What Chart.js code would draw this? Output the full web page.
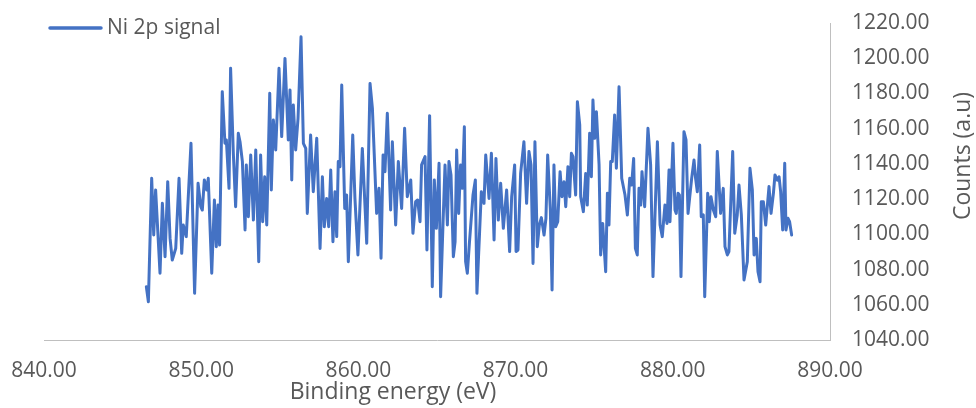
<!DOCTYPE html>
<html>
<head>
<meta charset="utf-8">
<script src="https://cdn.jsdelivr.net/npm/chart.js@4/dist/chart.umd.min.js"></script>
<style>
  html, body { margin: 0; padding: 0; background: #ffffff; }
  #wrap { width: 976px; height: 408px; }
</style>
</head>
<body>
<div id="wrap"><canvas id="xps" width="976" height="408"></canvas></div>
<script>
// Ni 2p region: binding energy (eV) and detector counts
const energies = [
  846.51,846.64,846.85,846.98,847.10,847.38,847.53,847.70,847.87,848.02,
  848.16,848.38,848.59,848.76,848.86,849.05,849.35,849.58,849.80,849.97,
  850.07,850.20,850.35,850.45,850.67,850.84,850.96,851.07,851.17,851.34,
  851.51,851.60,851.77,851.87,852.04,852.19,852.36,852.47,852.62,852.79,
  852.87,853.00,853.15,853.32,853.47,853.66,853.78,853.91,854.04,854.17,
  854.36,854.46,854.59,854.74,854.95,855.12,855.33,855.54,855.65,855.76,
  855.86,856.01,856.16,856.35,856.50,856.65,856.75,856.96,857.13,857.35,
  857.56,857.71,857.83,857.98,858.11,858.24,858.38,858.51,858.62,858.72,
  858.83,858.94,859.13,859.25,859.36,859.51,859.64,859.78,859.97,860.25,
  860.53,860.74,860.89,861.16,861.31,861.44,861.57,861.69,861.84,862.05,
  862.16,862.37,862.54,862.75,862.94,863.11,863.33,863.47,863.64,863.77,
  863.92,864.02,864.24,864.36,864.53,864.70,864.83,864.96,865.13,865.23,
  865.38,865.51,865.66,865.76,865.89,866.04,866.15,866.25,866.38,866.50,
  866.61,866.74,866.82,866.93,867.06,867.29,867.44,867.54,867.71,867.82,
  867.99,868.10,868.31,868.46,868.63,868.75,868.90,869.05,869.22,869.43,
  869.62,869.75,869.94,870.03,870.15,870.32,870.53,870.70,870.85,870.98,
  871.11,871.23,871.38,871.51,871.64,871.81,871.93,872.04,872.21,872.32,
  872.44,872.55,872.68,872.83,872.95,873.08,873.19,873.33,873.44,873.55,
  873.65,873.82,873.93,874.08,874.14,874.31,874.46,874.56,874.71,874.82,
  874.92,875.03,875.14,875.31,875.41,875.54,875.73,875.84,875.94,876.05,
  876.15,876.30,876.41,876.58,876.75,876.96,877.11,877.26,877.38,877.51,
  877.62,877.74,877.85,877.96,878.04,878.21,878.42,878.59,878.74,879.02,
  879.19,879.33,879.50,879.63,879.76,879.82,880.01,880.14,880.22,880.33,
  880.42,880.52,880.71,880.84,880.97,881.20,881.35,881.45,881.56,881.71,
  881.81,881.94,882.03,882.22,882.32,882.43,882.58,882.73,882.83,883.04,
  883.21,883.32,883.47,883.57,883.81,883.94,884.10,884.21,884.36,884.53,
  884.74,884.91,885.06,885.17,885.31,885.42,885.55,885.63,885.76,885.91,
  886.12,886.25,886.40,886.50,886.65,886.76,886.86,886.99,887.12,887.20,
  887.33,887.43,887.56
];

const counts = [
  1070.3,1061.7,1131.8,1099.6,1125.2,1077.9,1117.6,1087.3,1129.9,1097.7,
  1085.4,1092.0,1131.8,1089.2,1105.3,1098.7,1151.7,1066.5,1129.0,1115.7,
  1113.8,1130.9,1125.2,1131.8,1077.9,1119.5,1093.0,1116.6,1093.9,1181.0,
  1151.7,1153.6,1126.1,1194.3,1146.9,1115.7,1157.4,1152.6,1141.3,1102.5,
  1139.4,1110.0,1145.0,1108.1,1147.9,1084.5,1145.0,1107.2,1132.7,1105.3,
  1180.1,1125.2,1164.9,1147.9,1194.3,1155.5,1199.9,1153.6,1182.0,1130.8,
  1173.4,1147.9,1165.9,1212.2,1151.7,1148.8,1111.9,1156.4,1124.2,1154.5,
  1092.0,1132.7,1104.3,1120.4,1104.3,1136.5,1095.8,1124.2,1098.7,1141.3,
  1138.4,1184.8,1114.7,1122.3,1084.5,1122.3,1156.4,1120.4,1088.3,1148.8,
  1094.9,1185.7,1171.5,1111.9,1126.1,1086.4,1145.0,1135.6,1168.7,1113.8,
  1152.6,1105.3,1141.3,1114.7,1160.2,1121.4,1130.8,1100.6,1118.5,1119.5,
  1107.2,1139.4,1144.1,1091.1,1167.4,1070.3,1130.8,1103.4,1140.3,1064.6,
  1105.3,1139.4,1105.3,1141.3,1133.7,1087.3,1095.8,1147.9,1111.9,1139.4,
  1126.1,1161.1,1084.5,1077.9,1094.9,1122.3,1130.8,1066.5,1101.5,1124.2,
  1117.6,1145.0,1120.4,1146.0,1096.8,1143.1,1108.1,1129.0,1103.4,1125.2,
  1090.2,1121.4,1139.4,1090.2,1091.1,1134.6,1152.6,1117.6,1147.0,1139.4,
  1083.5,1152.6,1093.0,1105.3,1109.5,1099.6,1109.1,1145.0,1113.8,1068.4,
  1139.4,1104.3,1107.2,1135.6,1121.4,1129.9,1115.7,1138.4,1121.4,1146.0,
  1144.1,1122.3,1175.3,1162.1,1121.4,1112.9,1134.6,1116.6,1157.4,1132.7,
  1176.3,1154.5,1169.6,1139.4,1088.3,1106.2,1078.8,1123.3,1105.3,1141.3,
  1141.3,1167.8,1137.5,1183.8,1131.8,1122.3,1111.0,1131.8,1128.0,1143.1,
  1092.0,1088.3,1126.1,1116.6,1135.6,1115.7,1160.2,1139.4,1076.0,1152.6,
  1105.3,1098.7,1116.6,1106.2,1136.5,1107.2,1151.7,1113.8,1111.9,1123.3,
  1122.3,1076.0,1158.3,1153.6,1111.9,1131.8,1142.2,1131.8,1124.2,1150.7,
  1110.0,1111.0,1064.6,1123.3,1107.2,1121.4,1113.8,1110.0,1147.0,1111.9,
  1126.1,1093.0,1088.3,1090.2,1147.0,1100.6,1111.0,1128.0,1111.0,1074.1,
  1084.5,1137.5,1125.2,1088.3,1097.7,1078.8,1073.1,1118.5,1118.5,1105.3,
  1127.1,1111.9,1123.3,1133.7,1130.8,1132.7,1124.2,1102.5,1140.3,1102.5,
  1109.1,1107.2,1099.6
];

const seriesName = 'Ni 2p signal';
const xTitle = 'Binding energy (eV)';
const yTitle = 'Counts (a.u)';
const xTicks = [840, 850, 860, 870, 880, 890];
const yTicks = [1040, 1060, 1080, 1100, 1120, 1140, 1160, 1180, 1200, 1220];

const lineColor = '#4472C4';
const textColor = '#595959';
const axisColor = '#BFBFBF';
const fontFamily = "'Open Sans', 'Noto Sans', sans-serif";

const points = energies.map((e, i) => ({ x: e, y: counts[i] }));

// Legend entry and axis titles drawn on the canvas
const annotations = {
  id: 'annotations',
  afterDraw(chart) {
    const ctx = chart.ctx;
    const ds = chart.data.datasets[0];
    ctx.save();
    ctx.strokeStyle = ds.borderColor;
    ctx.lineWidth = 3.5;
    ctx.lineCap = 'round';
    ctx.beginPath();
    ctx.moveTo(50, 28);
    ctx.lineTo(101, 28);
    ctx.stroke();
    ctx.fillStyle = textColor;
    ctx.font = '21px ' + fontFamily;
    ctx.textBaseline = 'alphabetic';
    ctx.textAlign = 'left';
    ctx.fillText(ds.label, 107, 34);

    ctx.font = '23px ' + fontFamily;
    ctx.textAlign = 'center';
    ctx.fillText(xTitle, 393, 399);

    ctx.translate(970, 156);
    ctx.rotate(-Math.PI / 2);
    ctx.fillText(yTitle, 0, 0);
    ctx.restore();
  }
};

new Chart(document.getElementById('xps'), {
  type: 'scatter',
  data: {
    datasets: [{
      label: seriesName,
      data: points,
      showLine: true,
      borderColor: lineColor,
      backgroundColor: lineColor,
      borderWidth: 3,
      pointRadius: 0,
      pointHoverRadius: 0,
      tension: 0,
      borderJoinStyle: 'round',
      borderCapStyle: 'round'
    }]
  },
  options: {
    responsive: false,
    devicePixelRatio: 1,
    animation: false,
    layout: { padding: { left: 44, top: 23, right: 0, bottom: 0 } },
    plugins: {
      legend: { display: false },
      tooltip: { enabled: false }
    },
    scales: {
      x: {
        type: 'linear',
        position: 'bottom',
        min: xTicks[0],
        max: xTicks[xTicks.length - 1],
        afterBuildTicks(scale) { scale.ticks = xTicks.map(v => ({ value: v })); },
        afterFit(scale) {
          scale.height = 68;
          scale.paddingLeft = 0;
          scale.paddingRight = 0;
        },
        grid: { display: false, drawTicks: false },
        border: { display: true, color: axisColor, width: 1 },
        ticks: {
          padding: 18,
          color: textColor,
          font: { family: fontFamily, size: 21 },
          maxRotation: 0,
          callback: v => Number(v).toFixed(2)
        }
      },
      y: {
        type: 'linear',
        position: 'right',
        min: yTicks[0],
        max: yTicks[yTicks.length - 1],
        afterBuildTicks(scale) { scale.ticks = yTicks.map(v => ({ value: v })); },
        afterFit(scale) {
          scale.width = 146;
          scale.paddingTop = 0;
          scale.paddingBottom = 0;
        },
        grid: { display: false, drawTicks: false },
        border: { display: true, color: axisColor, width: 1 },
        ticks: {
          padding: 22,
          color: textColor,
          font: { family: fontFamily, size: 21 },
          callback: v => Number(v).toFixed(2)
        }
      }
    }
  },
  plugins: [annotations]
});
</script>
</body>
</html>
